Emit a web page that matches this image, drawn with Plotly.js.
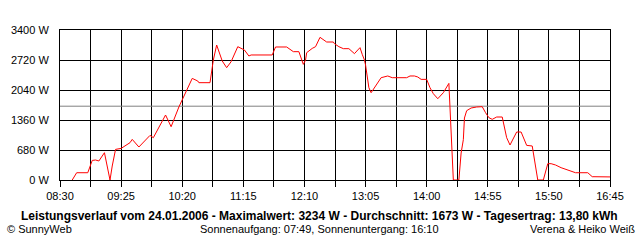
<!DOCTYPE html>
<html>
<head>
<meta charset="utf-8">
<script src="https://cdn.plot.ly/plotly-3.0.1.min.js"></script>
<style>html,body{margin:0;padding:0;background:#fff;}#chart{width:640px;height:240px;}</style>
</head>
<body>
<div id="chart"></div>
<script>
const day = "2006-01-24";
const times = ["08:41","08:45","08:55","08:59","09:02","09:05","09:10","09:13","09:15","09:17",
"09:20","09:25","09:30","09:33","09:35","09:41","09:51","09:54","10:05","10:10",
"10:17","10:29","10:34","10:35","10:45","10:46","10:48","10:51","10:53","10:56",
"11:00","11:04","11:10","11:13","11:16","11:20","11:22","11:41","11:44","11:54",
"12:00","12:05","12:08","12:09","12:11","12:12","12:17","12:20","12:24","12:27",
"12:30","12:36","12:37","12:41","12:45","12:50","12:55","12:58","13:00","13:02",
"13:04","13:05","13:07","13:08","13:10","13:12","13:17","13:19","13:25","13:29",
"13:42","13:45","13:49","13:52","13:55","14:00","14:03","14:06","14:10","14:15",
"14:20","14:22","14:24","14:29","14:31","14:33","14:34","14:36","14:40","14:45",
"14:50","14:53","14:56","14:59","15:03","15:08","15:10","15:12","15:15","15:21",
"15:25","15:30","15:35","15:37","15:40","15:45","15:49","15:52","15:56","16:01",
"16:07","16:14","16:25","16:29","16:45"];
const power = [0,165,165,444,453,431,619,279,0,317,
694,716,793,846,921,748,1011,959,1473,1208,
1655,2303,2244,2206,2206,2400,2720,3060,2924,2698,
2546,2682,3022,2983,2947,2811,2834,2834,3015,3015,
2909,2909,2720,2621,2720,2886,2983,3022,3234,3174,
3128,3128,3090,3022,2977,2977,2864,2947,3000,2848,
2720,2607,2319,2092,1979,2054,2228,2319,2358,2319,
2319,2358,2358,2335,2281,2281,2092,1956,1843,1979,
2190,1186,0,0,612,914,1405,1571,1632,1655,
1662,1526,1413,1375,1428,1428,1186,959,793,1088,
1088,785,771,431,0,0,370,370,340,279,
227,165,165,75,70];
const average = 1673;
const yTicks = [0,680,1360,2040,2720,3400];
const titleText = "Leistungsverlauf vom 24.01.2006 - Maximalwert: 3234 W - Durchschnitt: 1673 W - Tagesertrag: 13,80 kWh";
const leftNote = "© SunnyWeb";
const centerNote = "Sonnenaufgang: 07:49, Sonnenuntergang: 16:10";
const rightNote = "Verena & Heiko Weiß";
const xStart = day + " 08:30", xEnd = day + " 16:45";

const font = {family: "Liberation Sans, Arial, sans-serif", size: 11, color: "#000"};

const traces = [
  {x: [xStart, xEnd], y: [average, average], mode: "lines", line: {color: "#808080", width: 1}, hoverinfo: "skip"},
  {x: times.map(t => day + " " + t), y: power, mode: "lines", line: {color: "#ff0000", width: 1}}
];

const layout = {
  width: 640, height: 240,
  margin: {l: 60, r: 30, t: 30, b: 60},
  paper_bgcolor: "#fff", plot_bgcolor: "#fff",
  showlegend: false,
  font: font,
  xaxis: {
    type: "date", range: [xStart, xEnd],
    tick0: xStart, dtick: 55*60000, tickformat: "%H:%M",
    showgrid: true, gridcolor: "#000", gridwidth: 1,
    ticks: "outside", ticklen: 6, tickcolor: "#000",
    showline: true, linecolor: "#000", mirror: true, zeroline: false,
    minor: {dtick: 27.5*60000, tick0: xStart, showgrid: true, gridcolor: "#000", gridwidth: 1, ticks: "outside", ticklen: 6, tickcolor: "#000"},
    tickfont: font, fixedrange: true
  },
  yaxis: {
    range: [0, 3400], tickvals: yTicks, ticktext: yTicks.map(v => v + " W"),
    showgrid: true, gridcolor: "#000", gridwidth: 1,
    ticks: "", ticklabelstandoff: 8,
    showline: true, linecolor: "#000", mirror: true, zeroline: false,
    tickfont: font, fixedrange: true
  },
  annotations: [
    {text: "<b>" + titleText + "</b>", xref: "paper", yref: "paper", x: 0.4727, y: -0.24, xanchor: "center", yanchor: "middle", showarrow: false, font: {family: font.family, size: 12, color: "#000"}},
    {text: leftNote, xref: "paper", yref: "paper", x: -0.1, y: -0.327, xanchor: "left", yanchor: "middle", showarrow: false, font: font},
    {text: centerNote, xref: "paper", yref: "paper", x: 0.4727, y: -0.327, xanchor: "center", yanchor: "middle", showarrow: false, font: font},
    {text: rightNote, xref: "paper", yref: "paper", x: 1.049, y: -0.327, xanchor: "right", yanchor: "middle", showarrow: false, font: font}
  ]
};

Plotly.newPlot("chart", traces, layout, {staticPlot: true, displayModeBar: false});
</script>
</body>
</html>
